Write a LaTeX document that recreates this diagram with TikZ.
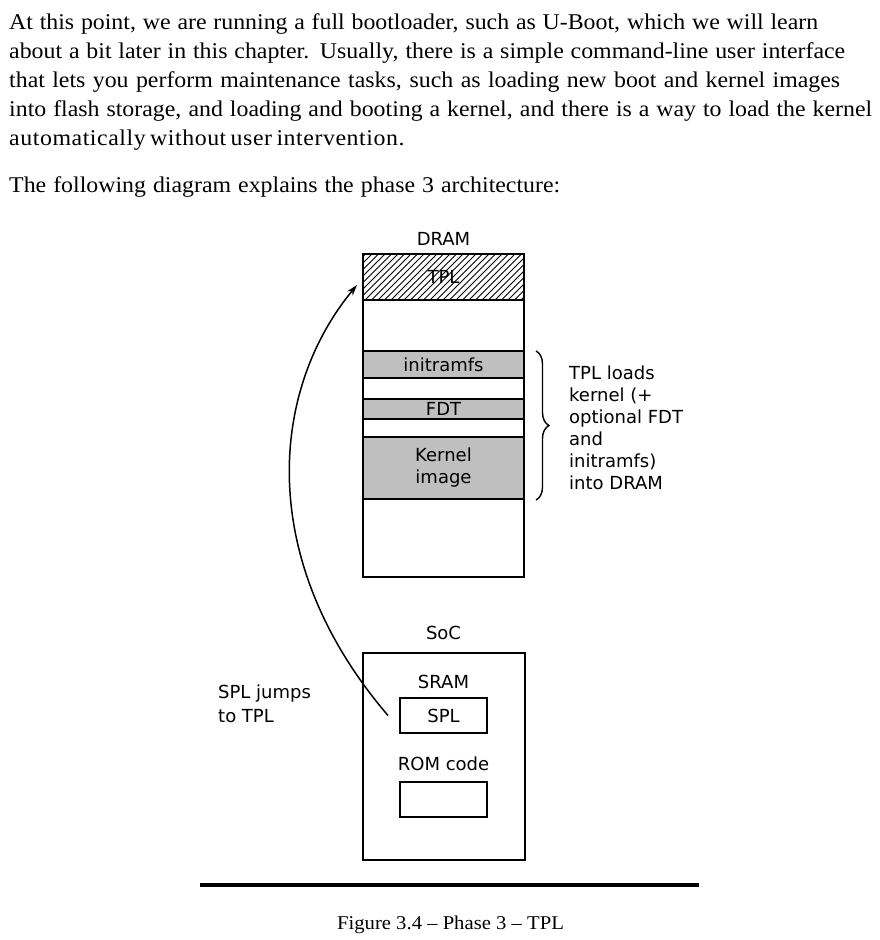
\documentclass[tikz,border=0pt]{standalone}
\usepackage{fontspec}
\setmainfont[FakeStretch=1.06]{Liberation Serif}
\newfontfamily\diagfont{DejaVu Sans}
\usetikzlibrary{calc,arrows.meta,decorations.pathreplacing}
\begin{document}
\begin{tikzpicture}[x=1pt,y=-1pt,
  body/.style={anchor=base west, inner sep=0pt, font=\fontsize{22.5}{27}\selectfont},
  box/.style={draw, line width=1.6pt, inner sep=0pt, outer sep=0pt, font=\diagfont\fontsize{18}{22}\selectfont},
  band/.style={box, fill=black!25, minimum width=161pt},
  lbl/.style={inner sep=0pt, font=\diagfont\fontsize{18}{22}\selectfont},
  jump/.style={line width=1.5pt, -{Stealth[length=11pt,width=7pt]}}
]
\useasboundingbox (0,0) rectangle (879,940);
\fill[white] (0,0) rectangle (879,940);

% body text
\node[body] (l1) at (9,29) {\makebox[809pt][s]{At this point, we are running a full bootloader, such as U-Boot, which we will learn}};
\node[body] (l2) at (9,58) {\makebox[836pt][s]{about a bit later in this chapter. Usually, there is a simple command-line user interface}};
\node[body] (l3) at (9,87) {\makebox[831pt][s]{that lets you perform maintenance tasks, such as loading new boot and kernel images}};
\node[body] (l4) at (9,116) {\makebox[863pt][s]{into flash storage, and loading and booting a kernel, and there is a way to load the kernel}};
\node[body] (l5) at (9,145) {\addfontfeatures{LetterSpace=2.5}\makebox[393pt][s]{automatically without user intervention.}};
\node[body] (l6) at (9,192) {\makebox[551pt][s]{The following diagram explains the phase 3 architecture:}};

% DRAM
\node[lbl] (dramlbl) at (443.5,239) {DRAM};
\node[box, minimum width=161pt, minimum height=323pt, anchor=north west] (dram) at (363,254) {};
\begin{scope}
  \clip (363,254) rectangle (524,300);
  \foreach \i in {-50,-43.5,...,170} \draw[line width=0.9pt] (363+\i,300) -- ++(46,-46);
\end{scope}
\node[box, minimum width=161pt, minimum height=46pt] (tpl) at (443.5,277) {TPL};
\node[band, minimum height=27pt] (initramfs) at (443.5,364.5) {initramfs};
\node[band, minimum height=20pt] (fdt) at (443.5,409) {FDT};
\node[band, minimum height=62pt, align=center] (kernel) at (443.5,468) {Kernel\\image};

% brace
\draw[decorate, decoration={brace, amplitude=13pt}, line width=1.4pt]
  ($(initramfs.north east)+(12,0)$) -- ($(kernel.south east)+(12,1)$);
\node[lbl, anchor=west, align=left] (loads) at (569,428) {TPL loads\\kernel (+\\optional FDT\\and\\initramfs)\\into DRAM};

% SoC
\node[lbl] (soclbl) at (443.5,633) {SoC};
\node[box, minimum width=162pt, minimum height=207pt] (soc) at (444,756.5) {};
\node[lbl] (sramlbl) at (443.5,682) {SRAM};
\node[box, minimum width=87pt, minimum height=35pt] (spl) at (443.5,715.5) {SPL};
\node[lbl] (romlbl) at (443.5,764) {ROM code};
\node[box, minimum width=87pt, minimum height=35pt] (rom) at (443.5,799.5) {};

% jump arrow
\node[lbl, anchor=west, align=left, font=\diagfont\fontsize{18}{24}\selectfont] (jumplbl) at (218,704) {SPL jumps\\to TPL};
\coordinate (jstart) at ($(spl.west)+(-12,0)$);
\coordinate (jend) at ($(tpl.west)+(-6,8)$);
\draw[jump] (jstart) .. controls (255,560) and (270,390) .. (jend);

% rule and caption
\draw[line width=4.5pt] (200,885) -- (699,885);
\node[anchor=base, inner sep=0pt, font=\fontsize{19.5}{23}\selectfont] (caption) at (450.5,929) {Figure 3.4 – Phase 3 – TPL};
\end{tikzpicture}
\end{document}
